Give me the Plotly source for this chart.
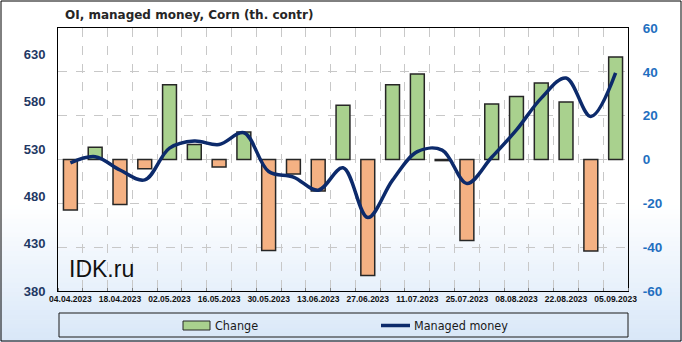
import plotly.graph_objects as go

# ---------------- data ----------------
dates = ["04.04.2023", "11.04.2023", "18.04.2023", "25.04.2023", "02.05.2023", "09.05.2023",
         "16.05.2023", "23.05.2023", "30.05.2023", "06.06.2023", "13.06.2023", "20.06.2023",
         "27.06.2023", "04.07.2023", "11.07.2023", "18.07.2023", "25.07.2023", "01.08.2023",
         "08.08.2023", "15.08.2023", "22.08.2023", "29.08.2023", "05.09.2023"]
change = [-23, 5.6, -20.5, -4.2, 34.1, 6.8, -3.4, 12.5, -41.5, -6.6, -14.4, 24.8,
          -52.9, 34.1, 39, -0.5, -37, 25.3, 28.8, 34.9, 26.2, -41.8, 46.8]
managed_money = [-1.5, 1.3, -4.8, -9.3, 5.2, 8.4, 6.8, 12.2, -5.5, -8.0, -14, -3.8,
                 -26.5, -9.4, 3.6, 4.3, -10.9, 1, 13.5, 28, 37.2, 19.6, 39.5]
left_ticks = [380, 430, 480, 530, 580, 630]
right_ticks = [-60, -40, -20, 0, 20, 40, 60]
right_labels = ["-60", "-40", "-20", "0", "20", "40", "60"]
title_text = "OI, managed money, Corn (th. contr)"
legend_names = ["Change", "Managed money"]
watermark = "IDK.ru"

# ---------------- geometry ----------------
W, H = 682, 342
L, R, T, B = 58, 628, 28, 291
def px(x):
    return (x - L) / (R - L)
def py(y):
    return (B - y) / (B - T)

GREEN = "#a9d18e"
ORANGE = "#f4b183"
NAVY = "#0c2a6b"
EDGE = "#262626"

xi = list(range(len(dates)))
bar_colors = [GREEN if v >= 0 else ORANGE for v in change]

fig = go.Figure()
# dummy trace to anchor the left axis
fig.add_trace(go.Scatter(x=[xi[0]], y=[left_ticks[0]], mode="markers",
                         marker=dict(opacity=0), hoverinfo="skip", showlegend=False,
                         xaxis="x", yaxis="y"))
fig.add_trace(go.Bar(x=xi, y=change, name=legend_names[0], width=0.56,
                     marker=dict(color=bar_colors, line=dict(color=EDGE, width=1.5)),
                     yaxis="y2", showlegend=False))
fig.add_trace(go.Scatter(x=xi, y=managed_money, name=legend_names[1], mode="lines",
                         line=dict(color=NAVY, width=3.5, shape="spline", smoothing=1),
                         yaxis="y2", showlegend=False))

shapes = []
# background gradient (white -> light blue at bottom)
y0g, y1g = 205, 342
n = 30
c0 = (255, 255, 255)
c1 = (216, 231, 248)
for k in range(n):
    ya = y0g + (y1g - y0g) * k / n
    yb = y0g + (y1g - y0g) * (k + 1) / n
    t = (k + 0.5) / n
    col = tuple(round(c0[j] + (c1[j] - c0[j]) * t) for j in range(3))
    shapes.append(dict(type="rect", xref="paper", yref="paper", layer="below",
                       x0=px(0), x1=px(W), y0=py(ya), y1=py(yb + 0.6),
                       fillcolor="rgb(%d,%d,%d)" % col, line=dict(width=0)))
# outer border
shapes.append(dict(type="rect", xref="paper", yref="paper",
                   x0=px(1), x1=px(681), y0=py(1), y1=py(341),
                   line=dict(color="#000000", width=1), fillcolor="rgba(0,0,0,0)"))
# legend box
shapes.append(dict(type="rect", xref="paper", yref="paper",
                   x0=px(59), x1=px(628), y0=py(313), y1=py(337),
                   line=dict(color="#1a1a1a", width=1), fillcolor="rgba(0,0,0,0)"))
# legend icons
shapes.append(dict(type="rect", xref="paper", yref="paper",
                   x0=px(183), x1=px(210), y0=py(321), y1=py(330),
                   line=dict(color=EDGE, width=1), fillcolor=GREEN))
shapes.append(dict(type="line", xref="paper", yref="paper",
                   x0=px(381), x1=px(410), y0=py(325.5), y1=py(325.5),
                   line=dict(color=NAVY, width=3.5)))

annotations = [
    dict(text="<b>" + title_text + "</b>", xref="paper", yref="paper",
         x=px(63), y=py(15), xanchor="left", yanchor="middle", showarrow=False,
         font=dict(family="DejaVu Sans", size=12, color="#262626")),
    dict(text=watermark, xref="paper", yref="paper",
         x=px(67), y=py(269), xanchor="left", yanchor="middle", showarrow=False,
         font=dict(family="Liberation Sans, Arial", size=23, color="#111111")),
    dict(text=legend_names[0], xref="paper", yref="paper",
         x=px(213), y=py(325.5), xanchor="left", yanchor="middle", showarrow=False,
         font=dict(family="DejaVu Sans Condensed, DejaVu Sans", size=12.5, color="#1a1a1a")),
    dict(text=legend_names[1], xref="paper", yref="paper",
         x=px(412), y=py(325.5), xanchor="left", yanchor="middle", showarrow=False,
         font=dict(family="DejaVu Sans Condensed, DejaVu Sans", size=12.5, color="#1a1a1a")),
]

fig.update_layout(
    width=W, height=H,
    margin=dict(l=L, r=W - R, t=T, b=H - B, pad=0),
    paper_bgcolor="#ffffff", plot_bgcolor="rgba(0,0,0,0)",
    showlegend=False, bargap=0.44,
    shapes=shapes, annotations=annotations,
    xaxis=dict(range=[-0.5, len(dates) - 0.5], tickmode="array",
               tickvals=xi[::2], ticktext=["<b>" + d + "</b>" for d in dates[::2]], ticks="",
               tickfont=dict(family="Liberation Sans, Arial", size=8.5, color="#111111"),
               showgrid=False, zeroline=False, showline=True, linecolor="#000000",
               linewidth=1, mirror=True,
               minor=dict(tickmode="linear", tick0=0.5, dtick=1, ticks="inside",
                          ticklen=3, tickcolor="#7f7f7f", showgrid=True,
                          gridcolor="#c8c8c8", griddash="dash", gridwidth=1)),
    yaxis=dict(range=[380, 658], tickmode="array", tickvals=left_ticks,
               ticktext=["<b>%d</b>" % v for v in left_ticks],
               ticks="outside", ticklen=9, tickcolor="rgba(0,0,0,0)",
               tickfont=dict(family="Liberation Sans, Arial", size=13, color="#1f3864"),
               showgrid=False, zeroline=False, showline=True, linecolor="#000000",
               linewidth=1, mirror=True),
    yaxis2=dict(range=[-60, 60], tickmode="array", tickvals=right_ticks,
                ticktext=["<b>" + s + "</b>" for s in right_labels],
                overlaying="y", side="right", ticks="outside", ticklen=11,
                tickcolor="rgba(0,0,0,0)",
                tickfont=dict(family="Liberation Sans, Arial", size=13.5, color="#1f6fc0"),
                showgrid=True, gridcolor="#c8c8c8", griddash="dash", gridwidth=1,
                zeroline=False, showline=False),
)

fig.write_html("out.html")
